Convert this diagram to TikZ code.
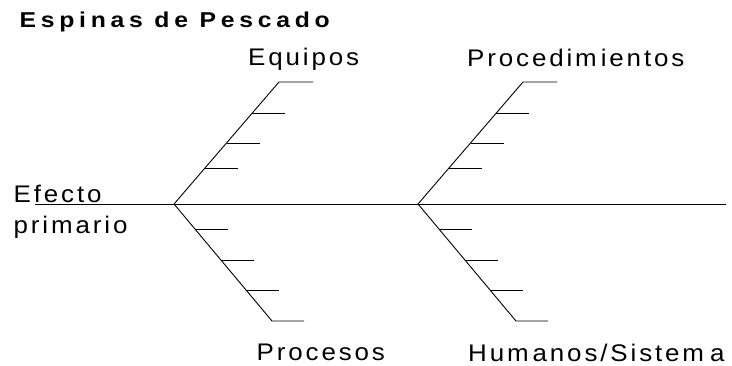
\documentclass[tikz,border=0pt]{standalone}
\usepackage{fontspec}
\setmainfont{Liberation Sans}
\newfontfamily\lblfont[LetterSpace=12,FakeStretch=1.08]{Liberation Sans}
\newfontfamily\ttlfont[LetterSpace=22,FakeStretch=1.15]{Liberation Sans Bold}
\usetikzlibrary{calc}
\begin{document}
\begin{tikzpicture}[x=1pt,y=-1pt,
  bone/.style={line width=0.9pt,black},
  lbl/.style={inner sep=0pt,anchor=base west,font=\lblfont\fontsize{24}{28}\selectfont},
  ttl/.style={inner sep=0pt,anchor=base west,font=\ttlfont\fontsize{21.5}{24}\selectfont}]
\useasboundingbox (0,0) rectangle (732,365);
% title
\node[ttl] (title) at (19.5,27.5) {Espinas de Pescado};
% labels
\node[lbl] (eq) at (248,65) {Equipos};
\node[lbl] (pr) at (467,66) {Procedim\kern4pt ientos};
\node[lbl] (ef) at (13.5,202) {Efecto};
\node[lbl] (pm) at (13.5,233) {primario};
\node[lbl] (pc) at (256.5,360) {Procesos};
\node[lbl] (hu) at (468,361) {Hum\kern4pt anos/Sistem\kern6pt a};
% spine
\coordinate (s0) at (35,204);
\coordinate (s1) at (726,204);
\coordinate (j1) at (174,204);
\coordinate (j2) at (418,204);
\coordinate (u1) at (279,82);
\coordinate (u2) at (523,82);
\coordinate (d1) at (272,321);
\coordinate (d2) at (516,321);
\draw[bone] (s0) -- (s1);
\draw[bone] (j1) -- (u1) -- ++(34,0);
\draw[bone] (j2) -- (u2) -- ++(34,0);
\draw[bone] (j1) -- (d1) -- ++(32,0);
\draw[bone] (j2) -- (d2) -- ++(32,0);
% ribs
\foreach \j/\u/\d in {j1/u1/d1,j2/u2/d2}{
  \foreach \t in {0.295,0.5,0.746}
    \draw[bone] ($(\j)!\t!(\u)$) -- ++(33,0);
  \foreach \t in {0.214,0.479,0.735}
    \draw[bone] ($(\j)!\t!(\d)$) -- ++(33,0);
}
\end{tikzpicture}
\end{document}
